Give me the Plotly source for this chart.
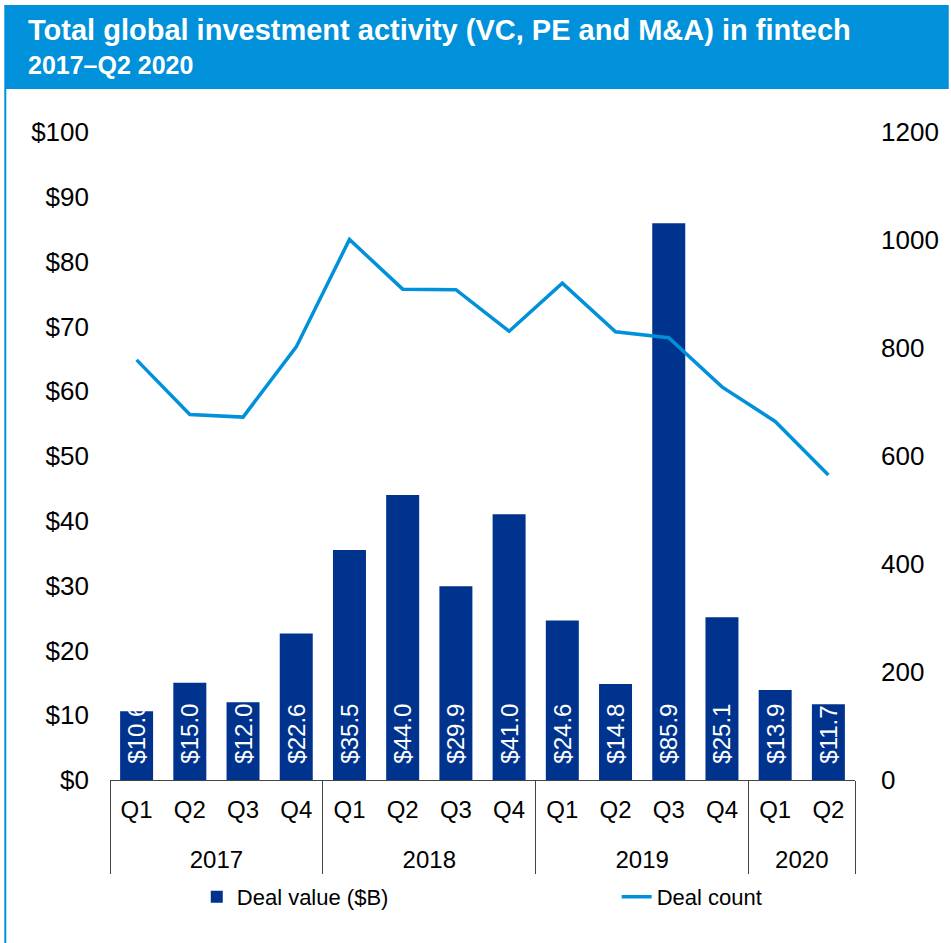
import plotly.graph_objects as go

years = ["2017"] * 4 + ["2018"] * 4 + ["2019"] * 4 + ["2020"] * 2
quarters = ["Q1", "Q2", "Q3", "Q4"] * 3 + ["Q1", "Q2"]
deal_value = [10.6, 15.0, 12.0, 22.6, 35.5, 44.0, 29.9, 41.0, 24.6, 14.8, 85.9, 25.1, 13.9, 11.7]
deal_count = [778, 677, 672, 802, 1001, 909, 908, 831, 920, 830, 819, 728, 664, 565]
left_ticks = list(range(0, 101, 10))
right_ticks = list(range(0, 1201, 200))

W, H = 951, 943
L, R, T, B = 110, 857, 132, 780
pw, ph = R - L, B - T

def px(x):
    return (x - L) / pw

def py(y):
    return (B - y) / ph

FONT = "Arial, Liberation Sans, sans-serif"
BAR = "#00338D"
LINE = "#0091DA"

# quarter labels with a spacer line so the year row sits lower
q_display = [q + "<br><span style='font-size:12px'>\u00a0</span>" for q in quarters]

fig = go.Figure()
fig.add_trace(go.Bar(
    x=[years, q_display], y=deal_value, name="Deal value ($B)",
    marker=dict(color=BAR, line=dict(width=0)),
    text=["\u00a0\u00a0$%.1f" % v for v in deal_value],
    textposition="inside", insidetextanchor="start", textangle=-90,
    textfont=dict(color="white", size=24, family=FONT),
    legend="legend", showlegend=True,
))
fig.add_trace(go.Scatter(
    x=[years, q_display], y=deal_count, name="Deal count", yaxis="y2",
    mode="lines", line=dict(color=LINE, width=3.5),
    legend="legend2", showlegend=True,
))

legend_common = dict(
    orientation="h", y=py(897), yanchor="middle",
    font=dict(size=22, color="black", family=FONT), bgcolor="rgba(0,0,0,0)",
)

fig.update_layout(
    width=W, height=H,
    margin=dict(l=L, r=W - R, t=T, b=H - B),
    paper_bgcolor="white", plot_bgcolor="white",
    font=dict(family=FONT, size=24, color="black"),
    bargap=0.38,
    showlegend=True,
    uniformtext=dict(minsize=24, mode="show"),
    xaxis=dict(
        type="multicategory", showline=True, linecolor="#444", linewidth=1.2,
        showgrid=False, ticks="", tickfont=dict(size=24, color="black"),
        showdividers=True, dividercolor="#444", dividerwidth=1.2,
        ticklabelstandoff=8,
    ),
    yaxis=dict(
        range=[0, 100], tickvals=left_ticks, ticktext=["$%d" % t for t in left_ticks],
        showgrid=False, zeroline=False, showline=False, ticks="",
        tickfont=dict(size=26, color="black"), ticklabelstandoff=20,
    ),
    yaxis2=dict(
        range=[0, 1200], tickvals=right_ticks, overlaying="y", side="right",
        showgrid=False, zeroline=False, showline=False, ticks="",
        tickfont=dict(size=26, color="black"), ticklabelstandoff=25,
    ),
    legend=dict(x=px(197), xanchor="left", **legend_common),
    legend2=dict(x=px(618), xanchor="left", **legend_common),
    shapes=[
        dict(type="rect", xref="paper", yref="paper", x0=px(5), x1=px(951),
             y0=py(89), y1=py(5), fillcolor="#0091DA", line=dict(width=0), layer="below"),
        dict(type="line", xref="paper", yref="paper", x0=px(5), x1=px(5),
             y0=py(943), y1=py(5), line=dict(color="#0091DA", width=2)),
    ],
    annotations=[
        dict(xref="paper", yref="paper", x=px(26), y=py(29.5), xanchor="left", yanchor="middle",
             text="<b>Total global investment activity (VC, PE and M&A) in fintech</b>",
             showarrow=False, font=dict(size=29, color="white", family=FONT)),
        dict(xref="paper", yref="paper", x=px(26), y=py(65), xanchor="left", yanchor="middle",
             text="<b>2017–Q2 2020</b>",
             showarrow=False, font=dict(size=25, color="white", family=FONT)),
    ],
)

fig.write_html("out.html", config={"displayModeBar": False},
               post_script="document.body.style.margin='0px';")
